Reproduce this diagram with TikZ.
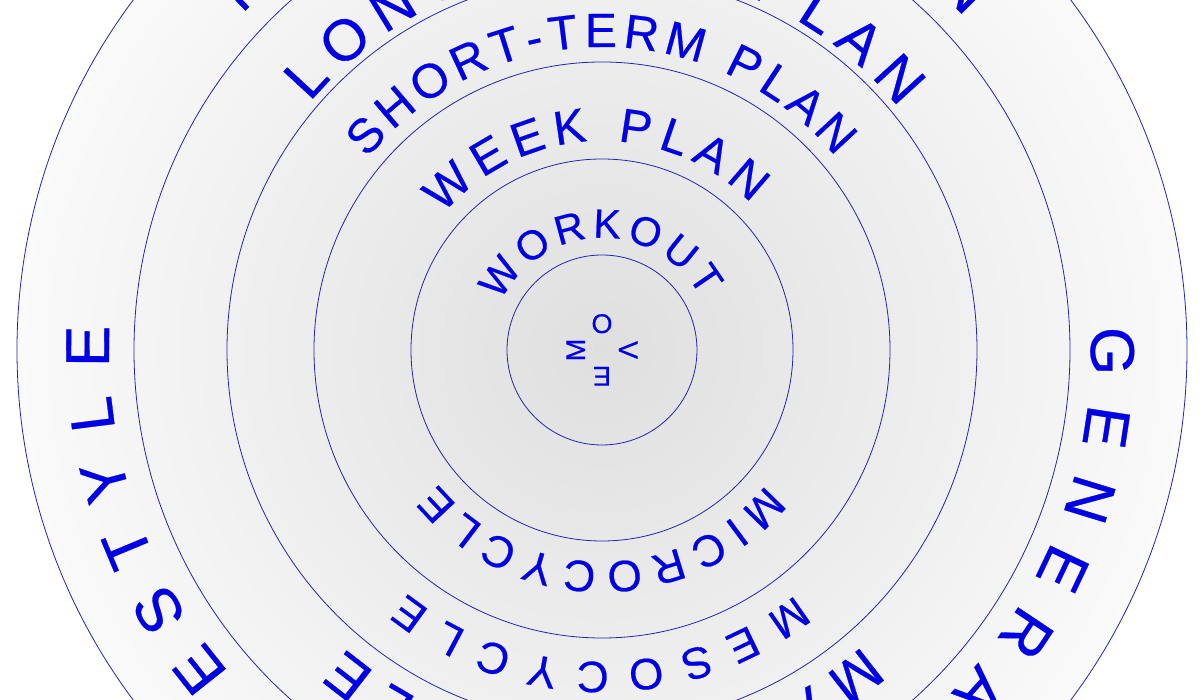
\documentclass[tikz,border=0pt]{standalone}
\usepackage{fontspec}
\setmainfont{Liberation Sans}
\newfontfamily\ringface{Liberation Sans}[FakeBold=0.5]
\usepackage{tikz}
\usetikzlibrary{decorations.text}
\definecolor{ringtext}{RGB}{0,0,228}
\definecolor{ringline}{RGB}{36,36,176}
\newcommand{\ringfont}[1]{\ringface\fontsize{#1}{#1}\selectfont}

\begin{document}
\begin{tikzpicture}[x=1pt,y=1pt,
  ringtxt/.style={decorate,decoration={text along path,text color=ringtext,text align={fit to path}}},
  ringcircle/.style={draw=ringline,line width=0.8pt},
  moveletter/.style={anchor=base,text=ringtext,font=\ringfont{27}}]
\tikzstyle{every node}+=[inner sep=0pt]
\useasboundingbox (-602,-350) rectangle (598,350);
\clip (-602,-350) rectangle (598,350);
\fill [white] (-602,-350) rectangle (598,350);
\shade [inner color=gray!25,outer color=gray!4] (0,0) circle (585pt);
\path [ringcircle] (0,0) circle (585pt);
\path [ringcircle] (0,0) circle (468pt);
\path [ringcircle] (0,0) circle (375pt);
\path [ringcircle] (0,0) circle (288pt);
\path [ringcircle] (0,0) circle (191pt);
\path [ringcircle] (0,0) circle (95pt);
\node [moveletter,rotate=90] (moveM) at (180:17pt) {M};
\node [moveletter,rotate=0] (moveO) at (90:17pt) {O};
\node [moveletter,rotate=-90] (moveV) at (0:17pt) {V};
\node [moveletter,rotate=180] (moveE) at (-90:17pt) {E};
\path [ringtxt,decoration={text={|\ringfont{41}|WORKOUT}}] (154.3:112pt) arc [start angle=154.3,end angle=28,radius=112pt];
\path [ringtxt,decoration={text={|\ringfont{48}|WEEK PLAN}}] (139.5:209pt) arc [start angle=139.5,end angle=44.5,radius=209pt];
\path [ringtxt,decoration={text={|\ringfont{44}|MICROCYCLE}}] (-39.4:212pt) arc [start angle=-39.4,end angle=-140.9,radius=212pt];
\path [ringtxt,decoration={text={|\ringfont{48}|SHORT-TERM PLAN}}] (140.8:303pt) arc [start angle=140.8,end angle=39.6,radius=303pt];
\path [ringtxt,decoration={text={|\ringfont{44}|MESOCYCLE}}] (-51.7:312pt) arc [start angle=-51.7,end angle=-128.8,radius=312pt];
\path [ringtxt,decoration={text={|\ringfont{58}|LONG-TERM PLAN}}] (139.7:383pt) arc [start angle=139.7,end angle=39.2,radius=383pt];
\path [ringtxt,decoration={text={|\ringfont{58}|MACROCYCLE}}] (-48.6:394pt) arc [start angle=-48.6,end angle=-130.7,radius=394pt];
\path [ringtxt,decoration={text={|\ringfont{62}|MULTI-YEAR PLAN}}] (137:492pt) arc [start angle=137,end angle=42.5,radius=492pt];
\path [ringtxt,decoration={text={|\ringfont{62}|LIFESTYLE}}] (240.9:493pt) arc [start angle=240.9,end angle=177.2,radius=493pt];
\path [ringtxt,decoration={text={|\ringfont{62}|GENERAL}}] (2.7:489pt) arc [start angle=2.7,end angle=-51.9,radius=489pt];
\end{tikzpicture}
\end{document}
